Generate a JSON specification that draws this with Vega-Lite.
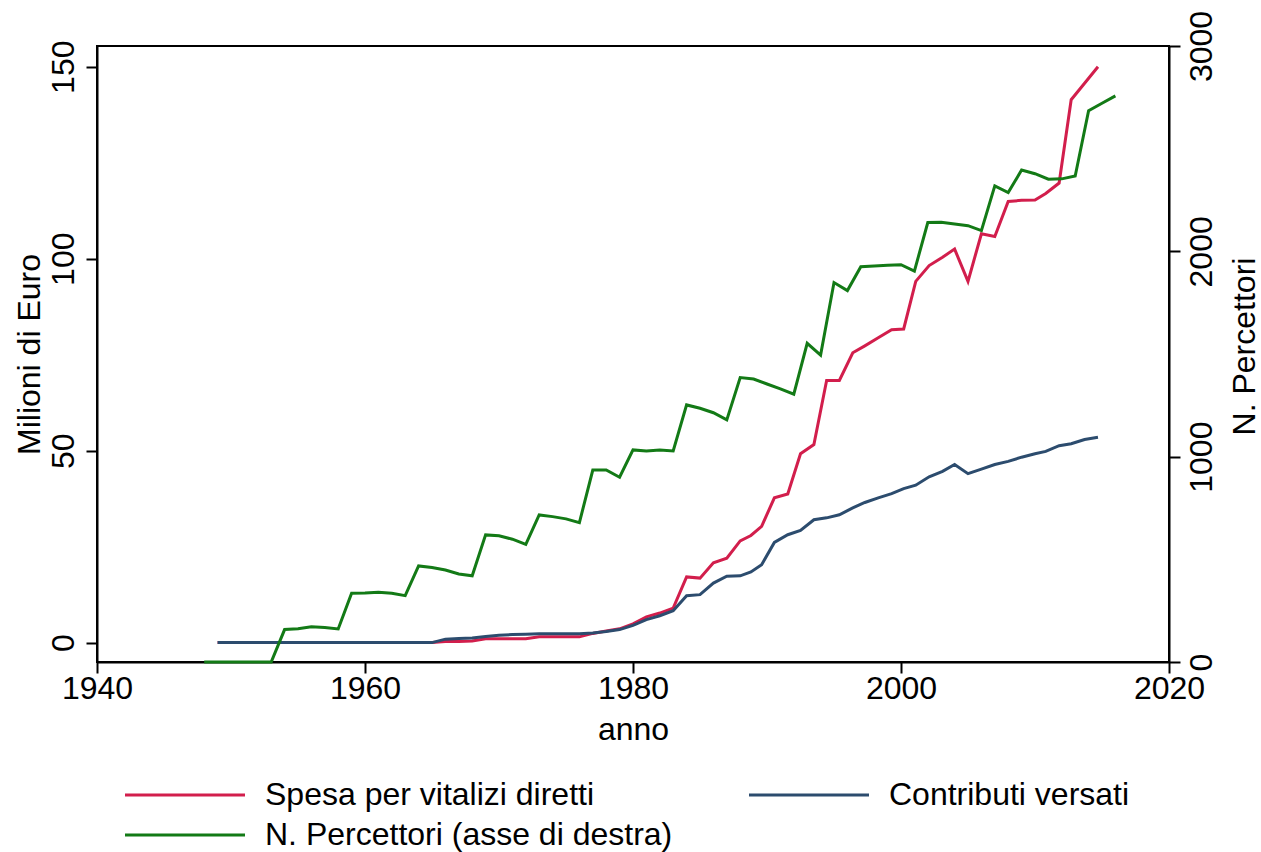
{
  "$schema": "https://vega.github.io/schema/vega-lite/v6.json",
  "width": 1072,
  "height": 616,
  "autosize": {"type": "none"},
  "padding": {"left": 97, "top": 46, "right": 92, "bottom": 190},
  "background": "white",
  "config": {
    "view": {"stroke": "black", "strokeWidth": 2},
    "font": "Liberation Sans",
    "axis": {
      "domainColor": "black", "domainWidth": 2, "tickColor": "black", "tickWidth": 2, "tickSize": 11,
      "labelColor": "black", "titleColor": "black", "labelFontSize": 32, "titleFontSize": 32,
      "titleFontWeight": "normal", "labelFont": "Liberation Sans", "titleFont": "Liberation Sans",
      "grid": false, "labelFlush": false, "labelOverlap": false
    }
  },
  "datasets": {
    "d": [
      {"anno": 1949, "serie": "S", "valore": 0}, {"anno": 1950, "serie": "S", "valore": 0}, {"anno": 1951, "serie": "S", "valore": 0}, {"anno": 1952, "serie": "S", "valore": 0}, {"anno": 1953, "serie": "S", "valore": 0}, {"anno": 1954, "serie": "S", "valore": 0}, {"anno": 1955, "serie": "S", "valore": 0}, {"anno": 1956, "serie": "S", "valore": 0}, {"anno": 1957, "serie": "S", "valore": 0}, {"anno": 1958, "serie": "S", "valore": 0}, {"anno": 1959, "serie": "S", "valore": 0}, {"anno": 1960, "serie": "S", "valore": 0}, {"anno": 1961, "serie": "S", "valore": 0}, {"anno": 1962, "serie": "S", "valore": 0}, {"anno": 1963, "serie": "S", "valore": 0}, {"anno": 1964, "serie": "S", "valore": 0}, {"anno": 1965, "serie": "S", "valore": 0},
      {"anno": 1966, "serie": "S", "valore": 0.3}, {"anno": 1967, "serie": "S", "valore": 0.3}, {"anno": 1968, "serie": "S", "valore": 0.4}, {"anno": 1969, "serie": "S", "valore": 1.0}, {"anno": 1970, "serie": "S", "valore": 1.0}, {"anno": 1971, "serie": "S", "valore": 1.0}, {"anno": 1972, "serie": "S", "valore": 1.0}, {"anno": 1973, "serie": "S", "valore": 1.5}, {"anno": 1974, "serie": "S", "valore": 1.5}, {"anno": 1975, "serie": "S", "valore": 1.5}, {"anno": 1976, "serie": "S", "valore": 1.5}, {"anno": 1977, "serie": "S", "valore": 2.4}, {"anno": 1978, "serie": "S", "valore": 3.0}, {"anno": 1979, "serie": "S", "valore": 3.6}, {"anno": 1980, "serie": "S", "valore": 4.9}, {"anno": 1981, "serie": "S", "valore": 6.7}, {"anno": 1982, "serie": "S", "valore": 7.7}, {"anno": 1983, "serie": "S", "valore": 9.0}, {"anno": 1984, "serie": "S", "valore": 17.1}, {"anno": 1985, "serie": "S", "valore": 16.8}, {"anno": 1986, "serie": "S", "valore": 20.8}, {"anno": 1987, "serie": "S", "valore": 22.0}, {"anno": 1988, "serie": "S", "valore": 26.5}, {"anno": 1988.8, "serie": "S", "valore": 27.9}, {"anno": 1989.6, "serie": "S", "valore": 30.3}, {"anno": 1990.55, "serie": "S", "valore": 37.7}, {"anno": 1991.55, "serie": "S", "valore": 38.7}, {"anno": 1992.5, "serie": "S", "valore": 49.2}, {"anno": 1993.5, "serie": "S", "valore": 51.6}, {"anno": 1994.45, "serie": "S", "valore": 68.3}, {"anno": 1995.4, "serie": "S", "valore": 68.3}, {"anno": 1996.4, "serie": "S", "valore": 75.5}, {"anno": 1997.3, "serie": "S", "valore": 77.3}, {"anno": 1998.3, "serie": "S", "valore": 79.4}, {"anno": 1999.3, "serie": "S", "valore": 81.5}, {"anno": 2000.2, "serie": "S", "valore": 81.7}, {"anno": 2001.1, "serie": "S", "valore": 94.1}, {"anno": 2002.1, "serie": "S", "valore": 98.2}, {"anno": 2003.1, "serie": "S", "valore": 100.4}, {"anno": 2004, "serie": "S", "valore": 102.5}, {"anno": 2005, "serie": "S", "valore": 94.1}, {"anno": 2006, "serie": "S", "valore": 106.5}, {"anno": 2007, "serie": "S", "valore": 105.8}, {"anno": 2008, "serie": "S", "valore": 114.9}, {"anno": 2009, "serie": "S", "valore": 115.2}, {"anno": 2010, "serie": "S", "valore": 115.3}, {"anno": 2010.8, "serie": "S", "valore": 117.0}, {"anno": 2011.8, "serie": "S", "valore": 119.7}, {"anno": 2012.7, "serie": "S", "valore": 141.4}, {"anno": 2013.7, "serie": "S", "valore": 145.7}, {"anno": 2014.7, "serie": "S", "valore": 150.0},

      {"anno": 1949, "serie": "C", "valore": 0}, {"anno": 1950, "serie": "C", "valore": 0}, {"anno": 1951, "serie": "C", "valore": 0}, {"anno": 1952, "serie": "C", "valore": 0}, {"anno": 1953, "serie": "C", "valore": 0}, {"anno": 1954, "serie": "C", "valore": 0}, {"anno": 1955, "serie": "C", "valore": 0}, {"anno": 1956, "serie": "C", "valore": 0}, {"anno": 1957, "serie": "C", "valore": 0}, {"anno": 1958, "serie": "C", "valore": 0}, {"anno": 1959, "serie": "C", "valore": 0}, {"anno": 1960, "serie": "C", "valore": 0}, {"anno": 1961, "serie": "C", "valore": 0}, {"anno": 1962, "serie": "C", "valore": 0}, {"anno": 1963, "serie": "C", "valore": 0}, {"anno": 1964, "serie": "C", "valore": 0}, {"anno": 1965, "serie": "C", "valore": 0},
      {"anno": 1966, "serie": "C", "valore": 0.9}, {"anno": 1967, "serie": "C", "valore": 1.1}, {"anno": 1968, "serie": "C", "valore": 1.2}, {"anno": 1969, "serie": "C", "valore": 1.6}, {"anno": 1970, "serie": "C", "valore": 1.9}, {"anno": 1971, "serie": "C", "valore": 2.1}, {"anno": 1972, "serie": "C", "valore": 2.2}, {"anno": 1973, "serie": "C", "valore": 2.3}, {"anno": 1974, "serie": "C", "valore": 2.3}, {"anno": 1975, "serie": "C", "valore": 2.3}, {"anno": 1976, "serie": "C", "valore": 2.3}, {"anno": 1977, "serie": "C", "valore": 2.5}, {"anno": 1978, "serie": "C", "valore": 2.9}, {"anno": 1979, "serie": "C", "valore": 3.4}, {"anno": 1980, "serie": "C", "valore": 4.5}, {"anno": 1981, "serie": "C", "valore": 6.0}, {"anno": 1982, "serie": "C", "valore": 7.0}, {"anno": 1983, "serie": "C", "valore": 8.3}, {"anno": 1984, "serie": "C", "valore": 12.2}, {"anno": 1985, "serie": "C", "valore": 12.5}, {"anno": 1986, "serie": "C", "valore": 15.5}, {"anno": 1987, "serie": "C", "valore": 17.3}, {"anno": 1988, "serie": "C", "valore": 17.4}, {"anno": 1988.8, "serie": "C", "valore": 18.4}, {"anno": 1989.6, "serie": "C", "valore": 20.3}, {"anno": 1990.55, "serie": "C", "valore": 26.1}, {"anno": 1991.55, "serie": "C", "valore": 28.1}, {"anno": 1992.5, "serie": "C", "valore": 29.2}, {"anno": 1993.5, "serie": "C", "valore": 32.0}, {"anno": 1994.45, "serie": "C", "valore": 32.5}, {"anno": 1995.4, "serie": "C", "valore": 33.3}, {"anno": 1996.4, "serie": "C", "valore": 35.1}, {"anno": 1997.3, "serie": "C", "valore": 36.5}, {"anno": 1998.3, "serie": "C", "valore": 37.7}, {"anno": 1999.3, "serie": "C", "valore": 38.8}, {"anno": 2000.2, "serie": "C", "valore": 40.1}, {"anno": 2001.1, "serie": "C", "valore": 41.0}, {"anno": 2002.1, "serie": "C", "valore": 43.2}, {"anno": 2003.1, "serie": "C", "valore": 44.6}, {"anno": 2004, "serie": "C", "valore": 46.4}, {"anno": 2005, "serie": "C", "valore": 44.0}, {"anno": 2006, "serie": "C", "valore": 45.2}, {"anno": 2007, "serie": "C", "valore": 46.4}, {"anno": 2008, "serie": "C", "valore": 47.2}, {"anno": 2009, "serie": "C", "valore": 48.3}, {"anno": 2010, "serie": "C", "valore": 49.2}, {"anno": 2010.8, "serie": "C", "valore": 49.8}, {"anno": 2011.8, "serie": "C", "valore": 51.3}, {"anno": 2012.7, "serie": "C", "valore": 51.8}, {"anno": 2013.7, "serie": "C", "valore": 52.9}, {"anno": 2014.7, "serie": "C", "valore": 53.5},

      {"anno": 1948, "serie": "N", "valore": 0}, {"anno": 1949, "serie": "N", "valore": 0}, {"anno": 1950, "serie": "N", "valore": 0}, {"anno": 1951, "serie": "N", "valore": 0}, {"anno": 1952, "serie": "N", "valore": 0}, {"anno": 1953, "serie": "N", "valore": 0}, {"anno": 1954, "serie": "N", "valore": 158}, {"anno": 1955, "serie": "N", "valore": 162}, {"anno": 1956, "serie": "N", "valore": 172}, {"anno": 1957, "serie": "N", "valore": 168}, {"anno": 1958, "serie": "N", "valore": 161}, {"anno": 1959, "serie": "N", "valore": 335}, {"anno": 1960, "serie": "N", "valore": 336}, {"anno": 1961, "serie": "N", "valore": 340}, {"anno": 1962, "serie": "N", "valore": 335}, {"anno": 1963, "serie": "N", "valore": 323}, {"anno": 1964, "serie": "N", "valore": 468}, {"anno": 1965, "serie": "N", "valore": 460}, {"anno": 1966, "serie": "N", "valore": 448}, {"anno": 1967, "serie": "N", "valore": 429}, {"anno": 1968, "serie": "N", "valore": 420}, {"anno": 1969, "serie": "N", "valore": 619}, {"anno": 1970, "serie": "N", "valore": 615}, {"anno": 1971, "serie": "N", "valore": 598}, {"anno": 1972, "serie": "N", "valore": 573}, {"anno": 1973, "serie": "N", "valore": 716}, {"anno": 1974, "serie": "N", "valore": 708}, {"anno": 1975, "serie": "N", "valore": 697}, {"anno": 1976, "serie": "N", "valore": 679}, {"anno": 1977, "serie": "N", "valore": 935}, {"anno": 1978, "serie": "N", "valore": 935}, {"anno": 1979, "serie": "N", "valore": 900}, {"anno": 1980, "serie": "N", "valore": 1033}, {"anno": 1981, "serie": "N", "valore": 1028}, {"anno": 1982, "serie": "N", "valore": 1033}, {"anno": 1983, "serie": "N", "valore": 1028}, {"anno": 1984, "serie": "N", "valore": 1252}, {"anno": 1985, "serie": "N", "valore": 1236}, {"anno": 1986, "serie": "N", "valore": 1214}, {"anno": 1987, "serie": "N", "valore": 1179}, {"anno": 1988, "serie": "N", "valore": 1385}, {"anno": 1989, "serie": "N", "valore": 1378}, {"anno": 1990, "serie": "N", "valore": 1354}, {"anno": 1991, "serie": "N", "valore": 1330}, {"anno": 1992, "serie": "N", "valore": 1304}, {"anno": 1993, "serie": "N", "valore": 1552}, {"anno": 1994, "serie": "N", "valore": 1495}, {"anno": 1995, "serie": "N", "valore": 1848}, {"anno": 1996, "serie": "N", "valore": 1809}, {"anno": 1997, "serie": "N", "valore": 1925}, {"anno": 1998, "serie": "N", "valore": 1929}, {"anno": 1999, "serie": "N", "valore": 1932}, {"anno": 2000, "serie": "N", "valore": 1935}, {"anno": 2001, "serie": "N", "valore": 1904}, {"anno": 2002, "serie": "N", "valore": 2140}, {"anno": 2003, "serie": "N", "valore": 2142}, {"anno": 2004, "serie": "N", "valore": 2133}, {"anno": 2005, "serie": "N", "valore": 2125}, {"anno": 2006, "serie": "N", "valore": 2101}, {"anno": 2007, "serie": "N", "valore": 2319}, {"anno": 2008, "serie": "N", "valore": 2286}, {"anno": 2009, "serie": "N", "valore": 2396}, {"anno": 2010, "serie": "N", "valore": 2378}, {"anno": 2011, "serie": "N", "valore": 2351}, {"anno": 2012, "serie": "N", "valore": 2353}, {"anno": 2013, "serie": "N", "valore": 2367}, {"anno": 2014, "serie": "N", "valore": 2685}, {"anno": 2015, "serie": "N", "valore": 2721}, {"anno": 2016, "serie": "N", "valore": 2757}
    ]
  },
  "data": {"name": "d"},
  "layer": [
    {
      "transform": [{"filter": "datum.serie !== 'N'"}],
      "mark": {"type": "line", "strokeWidth": 3},
      "encoding": {
        "x": {"field": "anno", "type": "quantitative", "scale": {"domain": [1940, 2020], "nice": false, "zero": false},
              "axis": {"values": [1940, 1960, 1980, 2000, 2020], "format": "d", "title": "anno", "labelPadding": 0, "titlePadding": 10}},
        "y": {"field": "valore", "type": "quantitative", "scale": {"domain": [-5.05, 155.4], "nice": false, "zero": false},
              "axis": {"orient": "left", "values": [0, 50, 100, 150], "format": "d", "title": "Milioni di Euro", "labelAngle": 270, "labelAlign": "center", "labelBaseline": "bottom", "labelPadding": 6,
                       "titleAngle": 270, "titleX": -68, "titleY": 308, "titleAlign": "center", "titleBaseline": "middle"}},
        "color": {"field": "serie", "type": "nominal",
                  "scale": {"domain": ["S", "N", "C"], "range": ["#D21E4C", "#137A16", "#2C4C6E"]},
                  "legend": {"orient": "none", "legendX": 72, "legendY": 733, "columns": 2, "title": null, "padding": 0, "values": ["S", "N", "C"],
                             "symbolType": "M-5,0L5,0", "symbolSize": 576, "symbolStrokeWidth": 3, "labelFontSize": 32, "labelLimit": 0,
                             "labelFont": "Liberation Sans", "labelColor": "black", "labelOffset": 64, "columnPadding": 70, "rowPadding": 8,
                             "labelExpr": "datum.label === 'S' ? 'Spesa per vitalizi diretti' : datum.label === 'C' ? 'Contributi versati' : 'N. Percettori (asse di destra)'"}}
      }
    },
    {
      "transform": [{"filter": "datum.serie === 'N'"}],
      "mark": {"type": "line", "strokeWidth": 3},
      "encoding": {
        "x": {"field": "anno", "type": "quantitative"},
        "y": {"field": "valore", "type": "quantitative", "scale": {"domain": [0, 3000], "nice": false, "zero": false},
              "axis": {"orient": "right", "values": [0, 1000, 2000, 3000], "format": "d", "title": "N. Percettori", "labelAngle": 270, "labelAlign": "center", "labelBaseline": "top", "labelPadding": 6,
                       "titleAngle": 270, "titleX": 75, "titleY": 300, "titleAlign": "center", "titleBaseline": "middle"}},
        "color": {"field": "serie", "type": "nominal", "scale": {"domain": ["S", "N", "C"], "range": ["#D21E4C", "#137A16", "#2C4C6E"]}}
      }
    }
  ],
  "resolve": {"scale": {"y": "independent"}}
}
